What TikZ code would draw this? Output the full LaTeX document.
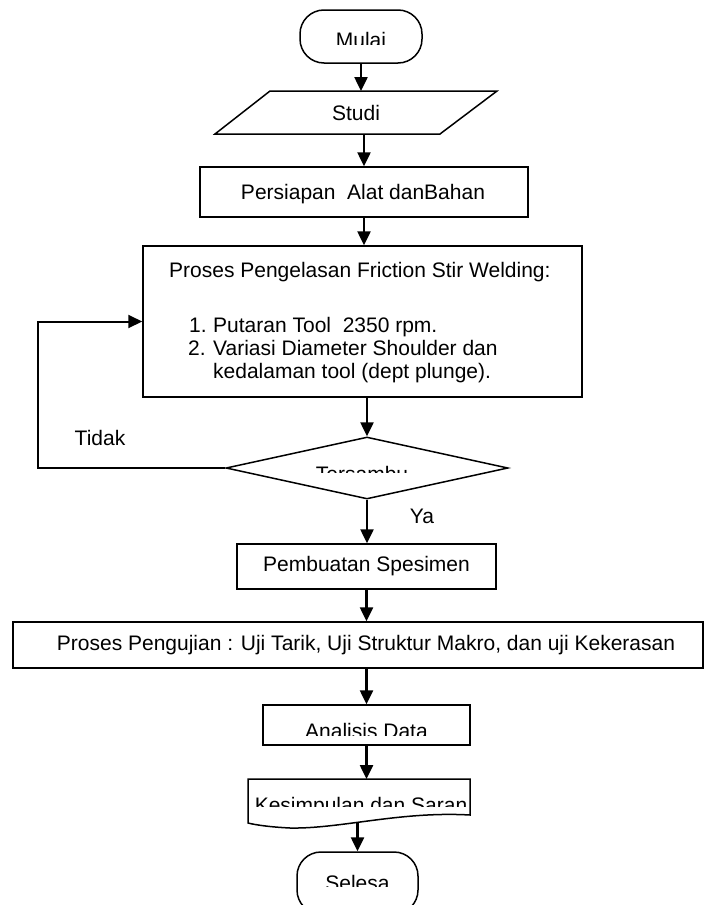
\documentclass[tikz,border=0pt]{standalone}
\usepackage{fontspec}
\setmainfont{Liberation Sans}
\usetikzlibrary{shapes.geometric,arrows.meta}

\begin{document}
\begin{tikzpicture}[x=1pt,y=-1pt,
  font=\fontsize{21}{25}\selectfont,
  box/.style={draw,line width=1.5pt,inner sep=0pt},
  ujung/.style={box,rounded corners=24pt},
  arr/.style={line width=2.5pt,-{Triangle[length=14pt,width=13pt]}},
  teks/.style={anchor=base,inner sep=0pt},
  baris/.style={anchor=base west,inner sep=0pt}]
\useasboundingbox (0,0) rectangle (704,905);
\clip (0,0) rectangle (704,905);

\node[ujung,minimum width=122pt,minimum height=53pt] (mulai) at (361,36.5) {};
\begin{scope}
\clip (300,0) rectangle (422,44);
\node[teks] (tmulai) at (361,47) {Mulai};
\end{scope}

\draw[box] (270,91) coordinate (studiatas) -- (497,91) -- (440,134) -- (215,134) coordinate (studibawah) -- cycle;
\node[teks] (studi) at (356,120) {Studi};

\node[box,minimum width=328pt,minimum height=50pt] (siap) at (364,192) {};
\node[teks] (tsiap) at (363,199) {Persiapan\ \ Alat danBahan};

\node[box,minimum width=439pt,minimum height=151pt] (proses) at (362.5,321.5) {};
\node[baris] (judul) at (169,277) {Proses Pengelasan Friction Stir Welding:};
\node[baris] (n1) at (189,332) {1.};
\node[baris] (b1) at (213,332) {Putaran Tool\ \ 2350 rpm.};
\node[baris] (n2) at (188,355) {2.};
\node[baris] (b2) at (213,355) {Variasi Diameter Shoulder dan};
\node[baris] (b3) at (213,378) {kedalaman tool (dept plunge).};

\node[box,diamond,minimum width=282pt,minimum height=62pt] (cek) at (367,468) {};
\begin{scope}
\clip (226,437) rectangle (508,472);
\node[teks] (tcek) at (362,481) {Tersambu};
\end{scope}
\coordinate (kiri) at (38,321.5);
\node[teks] (tidak) at (100,445) {Tidak};
\node[teks] (ya) at (422,523) {Ya};

\node[box,minimum width=259pt,minimum height=45pt] (buat) at (366.5,566.5) {Pembuatan Spesimen};

\node[box,minimum width=690pt,minimum height=46pt] (uji) at (358,645) {};
\node (tuji) at (366,645) {Proses Pengujian : Uji Tarik, Uji Struktur Makro, dan uji Kekerasan};

\node[box,minimum width=207pt,minimum height=40pt] (analisis) at (366.5,725) {};
\begin{scope}
\clip (263,705) rectangle (470,735);
\node[teks] (tanalisis) at (366.5,738) {Analisis Data};
\end{scope}

\draw[box] (248,779) coordinate (kesatas) -- (470,779) -- (470,815)
  .. controls (400,811) and (340,829) .. (290,828)
  .. controls (270,827) and (256,825) .. (248,823) coordinate (kesbawah) -- cycle;
\begin{scope}
\clip (248,779) rectangle (470,806);
\node[teks] (tkes) at (361,812) {Kesimpulan dan Saran};
\end{scope}

\node[ujung,minimum width=121pt,minimum height=62pt] (selesai) at (357.5,883) {};
\begin{scope}
\clip (297,852) rectangle (418,886);
\node[teks] (tselesai) at (357.5,890) {Selesa};
\end{scope}

\draw[arr] (mulai.south) -- (mulai.south |- studiatas);
\draw[arr] (siap.north |- studibawah) -- (siap.north);
\draw[arr] (siap.south) -- (siap.south |- proses.north);
\draw[arr] (proses.south -| cek.north) -- (cek.north);
\draw[arr] (cek.south) -- (cek.south |- buat.north);
\draw[arr] (buat.south) -- (buat.south |- uji.north);
\draw[arr] (uji.south -| analisis.north) -- (analisis.north);
\draw[arr] (analisis.south) -- (analisis.south |- kesatas);
\draw[arr] (selesai.north |- kesbawah) -- (selesai.north);
\draw[arr,line width=2pt] (cek.west) -| (kiri) -- (proses.west);
\end{tikzpicture}
\end{document}
